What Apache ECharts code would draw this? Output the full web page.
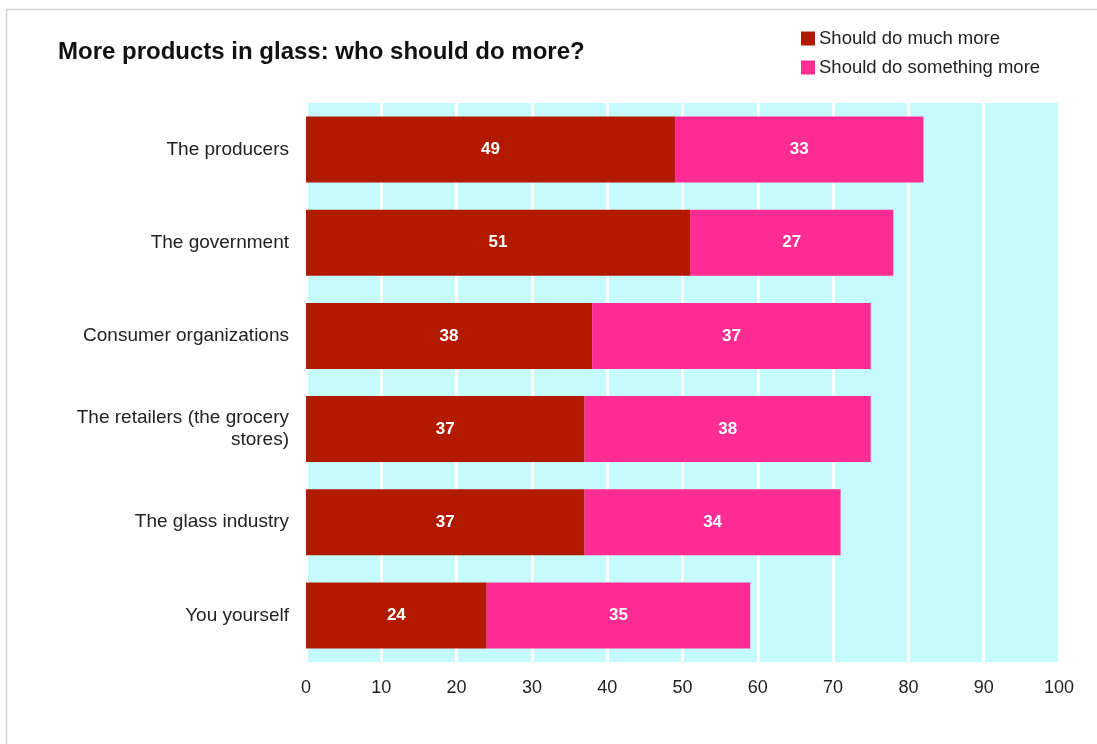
<!DOCTYPE html>
<html>
<head>
<meta charset="utf-8">
<script src="https://cdn.jsdelivr.net/npm/echarts@6/dist/echarts.min.js"></script>
<style>html,body{margin:0;padding:0;background:#fff;}#c{width:1097px;height:744px;}</style>
</head>
<body>
<div id="c"></div>
<script>
const categories = ['The producers', 'The government', 'Consumer organizations', 'The retailers (the grocery\nstores)', 'The glass industry', 'You yourself'];
const muchMore = [49, 51, 38, 37, 37, 24];
const somethingMore = [33, 27, 37, 38, 34, 35];
const seriesNames = ['Should do much more', 'Should do something more'];
const xTicks = [0, 10, 20, 30, 40, 50, 60, 70, 80, 90, 100];

const font = '"Liberation Sans", Arial, Helvetica, sans-serif';
const chart = echarts.init(document.getElementById('c'), null, {renderer: 'canvas'});
const labelStyle = {show: true, position: 'inside', color: '#fff', fontWeight: 'bold', fontSize: 17, fontFamily: font};
chart.setOption({
  animation: false,
  backgroundColor: '#fff',
  title: {
    text: 'More products in glass: who should do more?',
    left: 53, top: 35,
    textStyle: {fontFamily: font, fontSize: 24, fontWeight: 'bold', color: '#111'}
  },
  legend: {
    orient: 'vertical', left: 796, top: 24, itemGap: 10,
    itemWidth: 14, itemHeight: 14, icon: 'rect',
    textStyle: {fontFamily: font, fontSize: 18.5, color: '#222', padding: [0, 0, 0, -1]},
    data: seriesNames
  },
  grid: {left: 306, right: 38, top: 103, bottom: 82, show: true, backgroundColor: '#c6fbfd', borderWidth: 0},
  xAxis: {
    type: 'value', min: 0, max: 100, interval: 10,
    axisLine: {show: false}, axisTick: {show: false},
    splitLine: {show: true, lineStyle: {color: '#ffffff', width: 3}},
    axisLabel: {margin: 17, fontFamily: font, fontSize: 18, color: '#222',
      formatter: v => xTicks.includes(v) ? String(v) : ''}
  },
  yAxis: {
    type: 'category', inverse: true, data: categories,
    axisLine: {show: false}, axisTick: {show: false},
    axisLabel: {margin: 17, fontFamily: font, fontSize: 19, color: '#222', lineHeight: 22, align: 'right'}
  },
  series: [
    {name: seriesNames[0], type: 'bar', stack: 't', data: muchMore, barWidth: 66,
     itemStyle: {color: '#b21a00'}, label: labelStyle},
    {name: seriesNames[1], type: 'bar', stack: 't', data: somethingMore, barWidth: 66,
     itemStyle: {color: '#ff2d93'}, label: labelStyle}
  ],
  graphic: [
    {type: 'line', shape: {x1: 6, y1: 9.5, x2: 1097, y2: 9.5}, style: {stroke: '#d3d3d3', lineWidth: 1.5}},
    {type: 'line', shape: {x1: 6.5, y1: 9, x2: 6.5, y2: 744}, style: {stroke: '#d3d3d3', lineWidth: 1.5}}
  ]
});
</script>
</body>
</html>
